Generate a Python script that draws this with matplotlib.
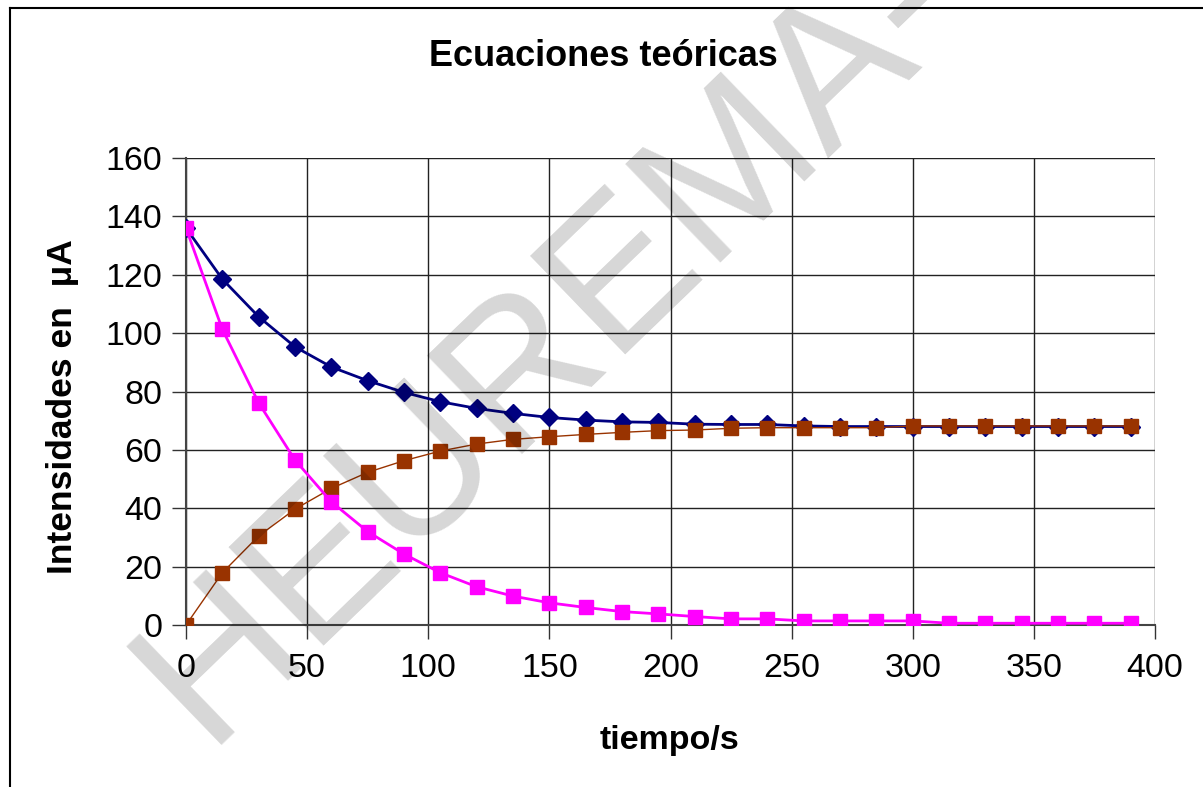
import numpy as np
import matplotlib
matplotlib.use('Agg')
import matplotlib.pyplot as plt
from matplotlib.lines import Line2D

plt.rcParams['font.family'] = ['Liberation Sans', 'DejaVu Sans']

# tiempo (s)
tiempo = np.arange(0, 391, 15)

# intensidades (uA)
i_total = [136, 118.5, 105.6, 95.3, 88.4, 83.7, 79.7, 76.5, 74.2, 72.5,
           71.1, 70.2, 69.6, 69.4, 68.8, 68.7, 68.7, 68.2, 68.0, 68.0,
           68.0, 68.0, 68.0, 68.0, 68.0, 68.0, 68.0]
i_rama = [0, 17.9, 30.5, 39.7, 46.8, 52.3, 56.3, 59.6, 62.0, 63.6,
          64.5, 65.3, 66.0, 66.6, 66.8, 67.4, 67.6, 67.6, 67.6, 67.6,
          68.2, 68.2, 68.2, 68.2, 68.2, 68.2, 68.2]
i_cond = [136, 101.3, 76.1, 56.5, 42.2, 32.0, 24.3, 17.9, 13.1, 9.9,
          7.6, 6.0, 4.6, 3.8, 2.9, 2.1, 2.1, 1.4, 1.4, 1.4,
          1.4, 0.6, 0.6, 0.6, 0.6, 0.6, 0.6]

xticks = [0, 50, 100, 150, 200, 250, 300, 350, 400]
yticks = [0, 20, 40, 60, 80, 100, 120, 140, 160]

W, H = 1203, 787
fig = plt.figure(figsize=(W / 100, H / 100), dpi=100)
ax = fig.add_axes([186 / W, 1 - 625 / H, (1155 - 186) / W, (625 - 158) / H])

ax.plot(tiempo, i_total, '-', color='#000080', lw=2, marker='D', ms=9,
        mec='#000080', mfc='#000080', zorder=3)
ax.plot(tiempo, i_rama, '-', color='#993300', lw=1, marker='s', ms=10,
        mec='#993300', mfc='#993300', zorder=4)
ax.plot(tiempo, i_cond, '-', color='#FF00FF', lw=2, marker='s', ms=10,
        mec='#FF00FF', mfc='#FF00FF', zorder=5)

ax.set_xlim(0, 400)
ax.set_ylim(0, 160)
ax.set_xticks(xticks)
ax.set_yticks(yticks)
ax.grid(True, color='#222222', lw=1)
ax.set_axisbelow(True)
for s in ['top', 'right']:
    ax.spines[s].set_visible(False)
for s in ['left', 'bottom']:
    ax.spines[s].set_color('#444444')
    ax.spines[s].set_linewidth(1.5)
ax.tick_params(direction='out', length=10, width=1, color='#333333',
               labelsize=24.5, pad=7)
ax.tick_params(axis='x', pad=10)
for lab in ax.get_xticklabels() + ax.get_yticklabels():
    lab.set_clip_on(False)

fig.text(603 / W, 1 - 56 / H, 'Ecuaciones teóricas', ha='center', va='center',
         fontsize=26, fontweight='bold')
fig.text(669 / W, 1 - 740 / H, 'tiempo/s', ha='center', va='center',
         fontsize=24.5, fontweight='bold')
fig.text(63 / W, 1 - 407 / H, 'Intensidades en  μA', ha='center', va='center',
         rotation=90, fontsize=25.5, fontweight='bold')

# marco exterior
fig.add_artist(Line2D([10 / W, 10 / W], [0, 1 - 8 / H], color='black', lw=1.5,
                      transform=fig.transFigure))
fig.add_artist(Line2D([10 / W, 1], [1 - 8 / H, 1 - 8 / H], color='black', lw=1.5,
                      transform=fig.transFigure))

# marca de agua
fig.text(205 / W, 1 - 745 / H, 'HEUREMA-', rotation=44, rotation_mode='anchor',
         ha='left', va='baseline', fontsize=143, color='black', alpha=0.16,
         zorder=10)

fig.savefig('out.png', dpi=100, facecolor='white')
